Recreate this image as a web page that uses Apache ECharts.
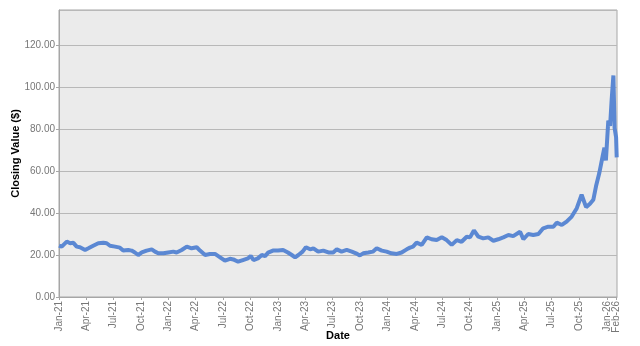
<!DOCTYPE html>
<html>
<head>
<meta charset="utf-8">
<script src="https://cdn.jsdelivr.net/npm/echarts@6/dist/echarts.min.js"></script>
<style>html,body{margin:0;padding:0;background:#fff}#c{width:640px;height:346px}</style>
</head>
<body>
<div id="c"></div>
<script>
var dates = [
'2021-01-01','2021-01-10','2021-01-27','2021-02-07','2021-02-18','2021-03-01','2021-03-12','2021-03-29','2021-04-09','2021-04-25',
'2021-05-12','2021-05-29','2021-06-09','2021-06-20','2021-07-07','2021-07-23','2021-08-03','2021-08-20','2021-08-31','2021-09-11',
'2021-09-22','2021-10-04','2021-10-20','2021-11-06','2021-11-17','2021-11-28','2021-12-15','2021-12-31','2022-01-17','2022-01-28',
'2022-02-14','2022-03-03','2022-03-19','2022-04-05','2022-04-16','2022-05-03','2022-05-19','2022-06-05','2022-06-22','2022-07-08',
'2022-07-25','2022-08-05','2022-08-21','2022-09-06','2022-09-23','2022-10-02','2022-10-11','2022-10-26','2022-11-08','2022-11-19',
'2022-11-29','2022-12-15','2023-01-01','2023-01-18','2023-02-03','2023-02-16','2023-02-27','2023-03-10','2023-03-24','2023-04-04',
'2023-04-18','2023-04-29','2023-05-15','2023-06-01','2023-06-18','2023-07-04','2023-07-16','2023-08-01','2023-08-18','2023-09-04',
'2023-09-18','2023-10-01','2023-10-12','2023-10-29','2023-11-13','2023-11-26','2023-12-13','2023-12-29','2024-01-14','2024-02-01',
'2024-02-17','2024-03-05','2024-03-16','2024-03-26','2024-04-07','2024-04-24','2024-05-11','2024-05-27','2024-06-13','2024-06-30',
'2024-07-16','2024-08-02','2024-08-19','2024-09-04','2024-09-21','2024-10-02','2024-10-15','2024-10-30','2024-11-15','2024-12-02',
'2024-12-19','2025-01-04','2025-01-21','2025-02-07','2025-02-23','2025-03-18','2025-03-29','2025-04-14','2025-05-01','2025-05-18',
'2025-06-03','2025-06-20','2025-07-07','2025-07-18','2025-08-04','2025-08-20','2025-09-06','2025-09-23','2025-10-09','2025-10-24',
'2025-11-06','2025-11-17','2025-11-26','2025-12-07','2025-12-18','2025-12-24','2025-12-29','2026-01-06','2026-01-12','2026-01-17',
'2026-01-23','2026-01-27','2026-02-01','2026-02-03'
];
var closingValues = [
24.5,24.0,26.4,25.6,25.8,24.0,23.7,22.4,23.2,24.4,
25.6,25.8,25.6,24.4,24.0,23.5,22.1,22.4,22.1,21.2,
20.0,21.2,22.1,22.7,21.6,20.8,20.8,21.2,21.6,21.2,
22.4,24.0,23.2,23.7,22.1,20.0,20.5,20.5,18.9,17.3,
18.2,17.9,16.8,17.6,18.4,19.6,17.6,18.4,20.0,19.5,
21.1,22.1,22.1,22.4,21.2,20.0,18.9,20.0,21.6,23.7,
22.7,23.2,21.6,22.1,21.2,21.2,22.7,21.6,22.4,21.6,
20.8,19.8,20.8,21.2,21.6,23.2,22.1,21.6,20.8,20.5,
21.2,22.7,23.5,24.0,25.9,24.8,28.4,27.5,27.1,28.4,
27.1,24.8,27.1,26.3,28.7,28.4,31.7,28.7,27.9,28.4,
26.8,27.5,28.4,29.5,29.0,31.1,27.5,30.0,29.5,30.0,
32.7,33.5,33.5,35.4,34.3,35.9,38.3,42.3,48.7,42.8,
44.4,46.3,52.7,59.0,67.0,71.1,65.0,84.0,81.5,93.5,
105.5,80.5,76.0,66.5
];
var tickDates = ['2021-01-01','2021-04-01','2021-07-01','2021-10-01','2022-01-01','2022-04-01','2022-07-01','2022-10-01',
'2023-01-01','2023-04-01','2023-07-01','2023-10-01','2024-01-01','2024-04-01','2024-07-01','2024-10-01',
'2025-01-01','2025-04-01','2025-07-01','2025-10-01','2026-01-01','2026-02-01'];
var tickLabels = ['Jan-21','Apr-21','Jul-21','Oct-21','Jan-22','Apr-22','Jul-22','Oct-22',
'Jan-23','Apr-23','Jul-23','Oct-23','Jan-24','Apr-24','Jul-24','Oct-24',
'Jan-25','Apr-25','Jul-25','Oct-25','Jan-26','Feb-26'];
var xMinDate = '2021-01-01', xMaxDate = '2026-02-04';

function ts(s){var p=s.split('-');return Date.UTC(+p[0],+p[1]-1,+p[2]);}
var tickTs = tickDates.map(ts);
var mainTicks = tickTs.slice(0, tickTs.length - 1);
var lastTick = tickTs.slice(tickTs.length - 1);
var seriesData = dates.map(function(d,i){return [ts(d), closingValues[i]];});
function fmt(v){var i=tickTs.indexOf(v);return i>=0?tickLabels[i]:'';}
var labelStyle = {rotate:90,margin:4,fontSize:10,color:'#777',fontFamily:'Liberation Sans',hideOverlap:false,
  showMinLabel:true,showMaxLabel:true,formatter:fmt};

var chart = echarts.init(document.getElementById('c'), null, {renderer:'canvas'});
chart.setOption({
  animation:false,
  grid:{left:59,right:23,top:10,bottom:49,outerBoundsMode:'none',containLabel:false,show:true,backgroundColor:'#ebebeb',borderColor:'#a6a6a6',borderWidth:1},
  xAxis:[{
    type:'value', min:ts(xMinDate), max:ts(xMaxDate), scale:true,
    name:'Date', nameLocation:'middle', nameGap:33, nameMoveOverlap:false,
    nameTextStyle:{fontFamily:'Liberation Sans',fontWeight:'bold',fontSize:11,color:'#000'},
    axisLine:{lineStyle:{color:'#a6a6a6'}},
    axisTick:{show:true,length:3,customValues:mainTicks,lineStyle:{color:'#a6a6a6'}},
    splitLine:{show:false},
    axisLabel:Object.assign({customValues:mainTicks}, labelStyle)
  },{
    type:'value', min:ts(xMinDate), max:ts(xMaxDate), scale:true, position:'bottom', offset:0,
    axisLine:{show:false},
    axisTick:{show:true,length:3,customValues:lastTick,lineStyle:{color:'#a6a6a6'}},
    splitLine:{show:false},
    axisLabel:Object.assign({customValues:lastTick}, labelStyle)
  }],
  yAxis:{
    type:'value', min:0, max:136.67, interval:20,
    name:'Closing Value ($)', nameLocation:'middle', nameGap:38, nameMoveOverlap:false,
    nameTextStyle:{fontFamily:'Liberation Sans',fontWeight:'bold',fontSize:11,color:'#000'},
    axisLine:{show:true,lineStyle:{color:'#a6a6a6'}},
    axisTick:{show:true,length:3,lineStyle:{color:'#a6a6a6'}},
    splitLine:{show:true,lineStyle:{color:'#b8b8b8',width:1}},
    axisLabel:{margin:4,fontSize:10,color:'#777',fontFamily:'Liberation Sans',showMaxLabel:false,
      formatter:function(v){return v>130?'':v.toFixed(2);}}
  },
  series:[{type:'line',xAxisIndex:0,data:seriesData,showSymbol:false,lineStyle:{color:'#5b88d3',width:4},itemStyle:{color:'#5b88d3'}}]
});
</script>
</body>
</html>
